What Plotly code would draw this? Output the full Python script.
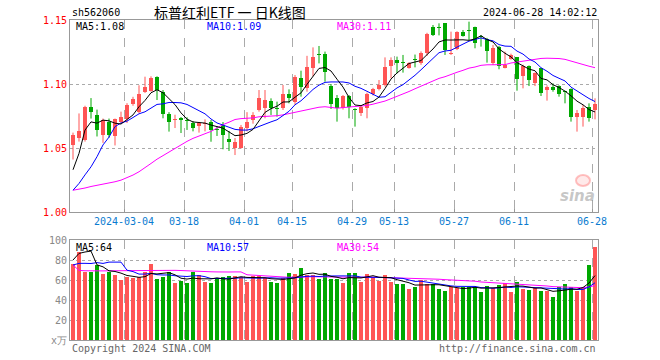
import plotly.graph_objects as go

# ---------------- data ----------------
dates = [
    "2024-02-20", "2024-02-21", "2024-02-22", "2024-02-23", "2024-02-26", "2024-02-27", "2024-02-28", "2024-02-29",
    "2024-03-01", "2024-03-04", "2024-03-05", "2024-03-06", "2024-03-07", "2024-03-08", "2024-03-11", "2024-03-12",
    "2024-03-13", "2024-03-14", "2024-03-15", "2024-03-18", "2024-03-19", "2024-03-20", "2024-03-21", "2024-03-22",
    "2024-03-25", "2024-03-26", "2024-03-27", "2024-03-28", "2024-03-29", "2024-04-01", "2024-04-02", "2024-04-03",
    "2024-04-08", "2024-04-09", "2024-04-10", "2024-04-11", "2024-04-12", "2024-04-15", "2024-04-16", "2024-04-17",
    "2024-04-18", "2024-04-19", "2024-04-22", "2024-04-23", "2024-04-24", "2024-04-25", "2024-04-26", "2024-04-29",
    "2024-04-30", "2024-05-06", "2024-05-07", "2024-05-08", "2024-05-09", "2024-05-10", "2024-05-13", "2024-05-14",
    "2024-05-15", "2024-05-16", "2024-05-17", "2024-05-20", "2024-05-21", "2024-05-22", "2024-05-23", "2024-05-24",
    "2024-05-27", "2024-05-28", "2024-05-29", "2024-05-30", "2024-05-31", "2024-06-03", "2024-06-04", "2024-06-05",
    "2024-06-06", "2024-06-07", "2024-06-11", "2024-06-12", "2024-06-13", "2024-06-14", "2024-06-17", "2024-06-18",
    "2024-06-19", "2024-06-20", "2024-06-21", "2024-06-24", "2024-06-25", "2024-06-26", "2024-06-27", "2024-06-28",
]

opens = [
    1.052, 1.058, 1.056, 1.082, 1.076, 1.060, 1.070, 1.059, 1.0705, 1.073,
    1.0844, 1.078, 1.0937, 1.0945, 1.1052, 1.094, 1.0766, 1.0719, 1.0737, 1.0715,
    1.0698, 1.0672, 1.069, 1.0705, 1.0648, 1.068, 1.0568, 1.0498, 1.0502, 1.0654,
    1.0719, 1.0797, 1.081, 1.087, 1.081, 1.081, 1.0922, 1.0862, 1.105, 1.0966,
    1.1125, 1.1229, 1.1234, 1.0984, 1.0893, 1.081, 1.0906, 1.0802, 1.0776, 1.081,
    1.0922, 1.0961, 1.0992, 1.1141, 1.1188, 1.1164, 1.1128, 1.1192, 1.1167, 1.124,
    1.1448, 1.1437, 1.1474, 1.1237, 1.1271, 1.1409, 1.1417, 1.1443, 1.1372, 1.1349,
    1.1161, 1.1292, 1.1128, 1.1195, 1.1208, 1.1065, 1.1141, 1.1005, 1.1122, 1.0953,
    1.0974, 1.0984, 1.0942, 1.0961, 1.074, 1.0745, 1.0818, 1.0797,
]
highs = [
    1.062, 1.077, 1.083, 1.089, 1.080, 1.073, 1.073, 1.073, 1.0784, 1.085,
    1.090, 1.099, 1.1057, 1.106, 1.106, 1.0953, 1.078, 1.076, 1.0742, 1.074,
    1.071, 1.0703, 1.0724, 1.0719, 1.0672, 1.0703, 1.0633, 1.0578, 1.068, 1.078,
    1.078, 1.0953, 1.0953, 1.0888, 1.0862, 1.0992, 1.0958, 1.107, 1.1104, 1.122,
    1.1286, 1.1297, 1.1253, 1.100, 1.0914, 1.0914, 1.0914, 1.081, 1.0836, 1.0932,
    1.097, 1.1031, 1.1208, 1.1208, 1.1214, 1.1227, 1.117, 1.123, 1.1255, 1.140,
    1.1461, 1.1474, 1.1474, 1.1409, 1.1412, 1.1422, 1.1487, 1.1448, 1.1383, 1.136,
    1.1305, 1.1297, 1.1253, 1.1237, 1.121, 1.115, 1.1145, 1.109, 1.1125, 1.099,
    1.1005, 1.099, 1.0948, 1.0966, 1.0797, 1.0836, 1.0849, 1.0888,
]
lows = [
    1.041, 1.055, 1.055, 1.073, 1.059, 1.054, 1.058, 1.052, 1.0693, 1.0695,
    1.083, 1.077, 1.093, 1.094, 1.0875, 1.0732, 1.0628, 1.0656, 1.0617, 1.0641,
    1.063, 1.062, 1.063, 1.0549, 1.0594, 1.049, 1.0477, 1.0445, 1.0495, 1.063,
    1.069, 1.0784, 1.0732, 1.0758, 1.0745, 1.0797, 1.0849, 1.0836, 1.0901, 1.094,
    1.106, 1.1161, 1.1018, 1.0805, 1.0706, 1.080, 1.0732, 1.0667, 1.075, 1.0732,
    1.091, 1.095, 1.098, 1.1044, 1.1083, 1.1089, 1.112, 1.113, 1.115, 1.122,
    1.1375, 1.138, 1.1227, 1.1227, 1.1265, 1.137, 1.1344, 1.1279, 1.1292, 1.1167,
    1.1148, 1.1115, 1.1122, 1.119, 1.0948, 1.0966, 1.0984, 1.0984, 1.0906, 1.087,
    1.094, 1.0901, 1.0849, 1.0706, 1.0628, 1.0667, 1.0706, 1.0724,
]
closes = [
    1.060, 1.063, 1.082, 1.078, 1.064, 1.072, 1.060, 1.073, 1.0745, 1.0836,
    1.088, 1.092, 1.0977, 1.1044, 1.0953, 1.0766, 1.0706, 1.0727, 1.0719, 1.0711,
    1.0654, 1.0695, 1.0695, 1.0641, 1.0641, 1.0602, 1.0549, 1.0549, 1.0666, 1.0705,
    1.0758, 1.0888, 1.0875, 1.081, 1.0802, 1.0922, 1.0893, 1.1057, 1.0979, 1.1135,
    1.1214, 1.1224, 1.1091, 1.0844, 1.0815, 1.0906, 1.0818, 1.0797, 1.0818, 1.0922,
    1.0961, 1.0992, 1.113, 1.1188, 1.1161, 1.1161, 1.1161, 1.1188, 1.1245, 1.1391,
    1.1383, 1.1435, 1.1266, 1.1242, 1.1409, 1.1375, 1.1414, 1.1318, 1.137, 1.1258,
    1.1284, 1.1141, 1.1148, 1.1227, 1.1036, 1.1141, 1.1031, 1.1083, 1.0927, 1.0979,
    1.0953, 1.0922, 1.094, 1.0745, 1.0771, 1.081, 1.0737, 1.0844,
]
volumes = [
    75.7, 88.3, 68.3, 68.3, 75.0, 66.0, 68.3, 65.0, 60.0, 63.3,
    61.7, 63.3, 68.3, 76.0, 61.0, 63.3, 68.3, 57.3, 59.0, 56.7,
    68.3, 65.0, 58.3, 57.3, 61.7, 63.3, 64.0, 64.0, 63.3, 58.3,
    64.0, 64.0, 61.7, 58.3, 57.3, 61.7, 67.3, 66.0, 71.7, 65.0,
    65.0, 60.7, 66.7, 60.7, 60.7, 57.3, 66.7, 67.3, 58.3, 66.0,
    63.3, 59.0, 65.0, 58.3, 56.0, 56.0, 51.0, 53.3, 60.0, 56.0,
    56.0, 51.0, 49.0, 52.7, 51.7, 52.7, 53.3, 53.3, 48.3, 54.0,
    51.7, 55.0, 56.7, 48.3, 58.3, 51.0, 50.0, 51.7, 49.3, 49.0,
    43.3, 52.7, 56.0, 52.7, 49.3, 51.7, 75.0, 93.3,
]
# sessions before the visible window (only feed the moving averages)
prior_closes = [
    1.045, 1.048, 1.042, 1.040, 1.038, 1.044, 1.036, 1.037,
    1.030, 1.022, 1.015, 1.008, 1.000, 0.995, 0.990, 0.985, 0.988, 0.992, 0.990, 0.995,
    1.010, 1.015, 1.015, 0.985, 0.980, 0.999, 0.991, 1.046, 1.069,
]
prior_volumes = [
    250, 80, 75, 70, 68, 65, 62, 60, 58, 62, 66, 70, 72, 64, 60, 58, 62, 65, 68, 65,
    72, 68, 70, 66, 74, 55.3, 61.3, 63.7, 144,
]
tick_dates = ["2024-03-04", "2024-03-18", "2024-04-01", "2024-04-15", "2024-04-29",
              "2024-05-13", "2024-05-27", "2024-06-11", "2024-06-28"]

# ---------------- helpers ----------------
RED = "#FF5555"
GREEN = "#00A800"
MONO = "DejaVu Sans Mono"
n = len(closes)
idx = list(range(n))


def moving_avg(prior, vals, w):
    full = list(prior) + list(vals)
    off = len(prior)
    return [sum(full[off + i - w + 1: off + i + 1]) / w for i in range(len(vals))]


def px(x):
    return (x - 70) / 528.0


def py(y):
    return (340 - y) / 320.0


up = [c >= o for o, c in zip(opens, closes)]
colors = [RED if u else GREEN for u in up]

fig = go.Figure()

# wicks
for flag, col in ((True, RED), (False, GREEN)):
    wx, wy = [], []
    for i in idx:
        if up[i] == flag:
            wx += [i, i, None]
            wy += [lows[i], highs[i], None]
    fig.add_trace(go.Scatter(x=wx, y=wy, mode="lines", line=dict(color=col, width=1),
                             hoverinfo="skip", showlegend=False, xaxis="x", yaxis="y"))

# bodies
base = [min(o, c) for o, c in zip(opens, closes)]
height = [max(abs(c - o), 0.0008) for o, c in zip(opens, closes)]
fig.add_trace(go.Bar(x=idx, y=height, base=base, width=0.83, marker=dict(color=colors, line=dict(width=0)),
                     showlegend=False, xaxis="x", yaxis="y"))

# price MAs
ma_cols = {5: "#000000", 10: "#0000FF", 30: "#FF00FF"}
price_ma = {w: moving_avg(prior_closes, closes, w) for w in (5, 10, 30)}
for w in (30, 10, 5):
    fig.add_trace(go.Scatter(x=idx, y=price_ma[w], mode="lines", line=dict(color=ma_cols[w], width=1),
                             showlegend=False, xaxis="x", yaxis="y"))

# volume
fig.add_trace(go.Bar(x=idx, y=volumes, width=0.83, marker=dict(color=colors, line=dict(width=0)),
                     showlegend=False, xaxis="x2", yaxis="y2"))
vol_ma = {w: moving_avg(prior_volumes, volumes, w) for w in (5, 10, 30)}
for w in (30, 10, 5):
    fig.add_trace(go.Scatter(x=idx, y=vol_ma[w], mode="lines", line=dict(color=ma_cols[w], width=1),
                             showlegend=False, xaxis="x2", yaxis="y2"))

tickvals = [dates.index(d) - 0.5 for d in tick_dates]
ticktext = [tick_dates[0]] + [d[5:] for d in tick_dates[1:]]

grid_col = "#AAAAAA"
border = "#999999"
common_x = dict(range=[-0.5, n - 0.5], tickvals=tickvals, showgrid=True, gridcolor=grid_col,
                griddash="dash", gridwidth=1, zeroline=False, showline=True, mirror=True,
                linecolor=border, linewidth=1, fixedrange=True)

fig.update_layout(
    width=660, height=360,
    margin=dict(l=70, r=62, t=20, b=20),
    paper_bgcolor="white", plot_bgcolor="white",
    bargap=0, showlegend=False, hovermode=False,
    xaxis=dict(common_x, anchor="y", domain=[0, 1], ticktext=ticktext, ticks="inside", ticklen=3,
               tickcolor=border, tickfont=dict(family=MONO, size=10, color="#0A7BD0")),
    xaxis2=dict(common_x, anchor="y2", domain=[0, 1], showticklabels=False, ticks=""),
    yaxis=dict(domain=[py(212), 1.0], range=[1.0, 1.15], tickvals=[1.0, 1.05, 1.10, 1.15],
               ticktext=["1.00", "1.05", "1.10", "1.15"], tickfont=dict(family=MONO, size=10, color="#FF0000"),
               showgrid=True, gridcolor=grid_col, griddash="dot", zeroline=False, showline=True, mirror=True,
               linecolor=border, linewidth=1, ticks="", fixedrange=True),
    yaxis2=dict(domain=[0, py(240)], range=[0, 100], tickvals=[0, 20, 40, 60, 80, 100],
                ticktext=["x万", "20", "40", "60", "80", "100"], tickfont=dict(family=MONO, size=10, color="#888888"),
                showgrid=True, gridcolor=grid_col, griddash="dot", zeroline=False, showline=True, mirror=True,
                linecolor=border, linewidth=1, ticks="", fixedrange=True),
)


def note(text, x, y, color="#000000", size=10, family=MONO, anchor="left"):
    fig.add_annotation(text=text, x=px(x), y=py(y), xref="paper", yref="paper", showarrow=False,
                       xanchor=anchor, yanchor="middle", font=dict(family=family, size=size, color=color))


note("sh562060", 70, 12)
note("标普红利ETF 一 日K线图", 152, 12, size=14, family="Noto Sans CJK SC")
note("2024-06-28 14:02:12", 599, 12, anchor="right")

note("MA5:%.2f" % price_ma[5][-1], 74, 27)
note("MA10:%.2f" % price_ma[10][-1], 205, 27, color="#0000FF")
note("MA30:%.2f" % price_ma[30][-1], 335, 27, color="#FF00FF")

note("MA5:%d" % round(vol_ma[5][-1]), 74, 247)
note("MA10:%d" % round(vol_ma[10][-1]), 205, 247, color="#0000FF")
note("MA30:%d" % round(vol_ma[30][-1]), 335, 247, color="#FF00FF")

note("Copyright 2024 SINA.COM", 70, 348, color="#666666")
note("http://finance.sina.com.cn", 598, 348, color="#666666", anchor="right")

# sina watermark
fig.add_shape(type="circle", xref="paper", yref="paper", x0=px(576), x1=px(590), y0=py(186), y1=py(175),
              line=dict(color="rgba(255,120,120,0.45)", width=2), fillcolor="rgba(255,170,170,0.25)")
note("<b><i>sina</i></b>", 597, 196, color="rgba(150,150,150,0.55)", size=15, family="DejaVu Sans", anchor="right")

fig.write_html("out.html", config={"displayModeBar": False, "staticPlot": True},
               post_script="document.body.style.margin='0';document.body.style.padding='0';"
                           "document.documentElement.style.overflow='hidden';")
